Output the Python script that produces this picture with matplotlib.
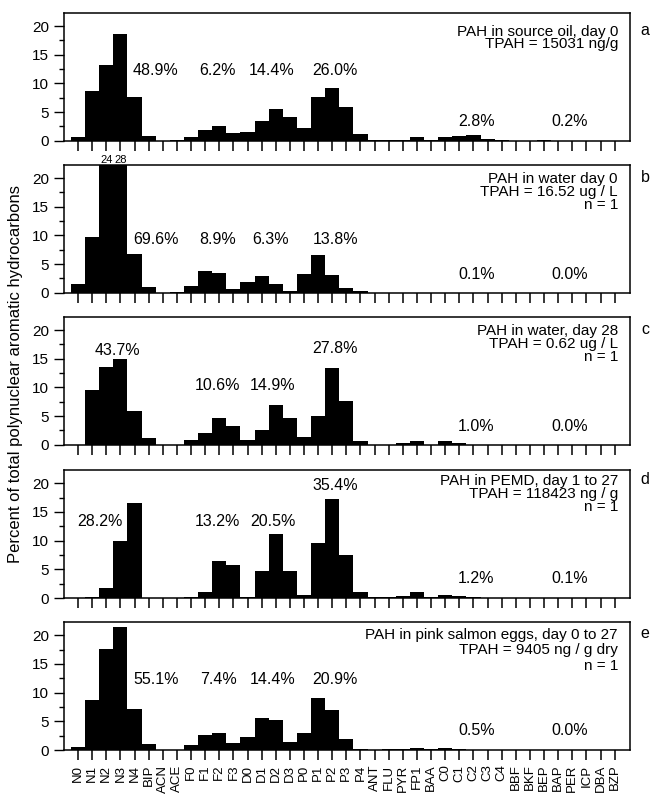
import matplotlib.pyplot as plt
from matplotlib.ticker import MultipleLocator

plt.rcParams['font.family'] = ['Liberation Sans', 'DejaVu Sans']

compounds = ["N0", "N1", "N2", "N3", "N4", "BIP", "ACN", "ACE", "F0", "F1",
             "F2", "F3", "D0", "D1", "D2", "D3", "P0", "P1", "P2", "P3",
             "P4", "ANT", "FLU", "PYR", "FP1", "BAA", "C0", "C1", "C2", "C3",
             "C4", "BBF", "BKF", "BEP", "BAP", "PER", "ICP", "DBA", "BZP"]

# percent of TPAH per compound
oil_day0 = [0.6, 8.6, 13.2, 18.6, 7.7, 0.8, 0.05, 0.15, 0.6, 1.8,
            2.6, 1.35, 1.5, 3.5, 5.5, 4.1, 2.3, 7.6, 9.2, 5.9,
            1.1, 0.1, 0.1, 0.1, 0.65, 0.15, 0.6, 0.85, 0.95, 0.3,
            0.1, 0.05, 0.02, 0.12, 0.03, 0.01, 0.01, 0.01, 0.01]
water_day0 = [1.45, 9.7, 24.0, 28.0, 6.8, 1.05, 0.02, 0.1, 1.2, 3.8,
              3.5, 0.7, 1.9, 2.85, 1.45, 0.4, 3.2, 6.6, 3.1, 0.9,
              0.25, 0.05, 0.05, 0.05, 0.05, 0.05, 0.05, 0.03, 0.02, 0.01,
              0.0, 0.0, 0.0, 0.0, 0.0, 0.0, 0.0, 0.0, 0.0]
water_day28 = [0.0, 9.6, 13.5, 14.9, 5.9, 1.15, 0.0, 0.0, 0.9, 2.1,
               4.6, 3.25, 0.8, 2.55, 6.95, 4.6, 1.3, 5.0, 13.4, 7.6,
               0.7, 0.0, 0.05, 0.35, 0.65, 0.05, 0.65, 0.25, 0.05, 0.0,
               0.0, 0.0, 0.0, 0.0, 0.0, 0.05, 0.0, 0.0, 0.0]
pemd = [0.0, 0.25, 1.75, 9.95, 16.6, 0.05, 0.05, 0.05, 0.15, 1.05,
        6.4, 5.8, 0.25, 4.7, 11.2, 4.65, 0.5, 9.55, 17.2, 7.5,
        1.05, 0.15, 0.15, 0.3, 1.05, 0.15, 0.6, 0.4, 0.15, 0.05,
        0.02, 0.03, 0.02, 0.05, 0.02, 0.01, 0.01, 0.01, 0.01]
eggs = [0.55, 8.7, 17.6, 21.4, 7.2, 1.0, 0.0, 0.0, 0.85, 2.6,
        3.0, 1.2, 2.3, 5.6, 5.2, 1.4, 3.0, 9.1, 7.0, 2.0,
        0.2, 0.05, 0.1, 0.2, 0.4, 0.1, 0.3, 0.15, 0.05, 0.0,
        0.0, 0.0, 0.0, 0.0, 0.0, 0.0, 0.0, 0.0, 0.0]

group_pct_a = ["48.9%", "6.2%", "14.4%", "26.0%", "2.8%", "0.2%"]
group_pct_b = ["69.6%", "8.9%", "6.3%", "13.8%", "0.1%", "0.0%"]
group_pct_c = ["43.7%", "10.6%", "14.9%", "27.8%", "1.0%", "0.0%"]
group_pct_d = ["28.2%", "13.2%", "20.5%", "35.4%", "1.2%", "0.1%"]
group_pct_e = ["55.1%", "7.4%", "14.4%", "20.9%", "0.5%", "0.0%"]

info_a = ["PAH in source oil, day 0", "TPAH = 15031 ng/g"]
info_b = ["PAH in water day 0", "TPAH = 16.52 ug / L", "n = 1"]
info_c = ["PAH in water, day 28", "TPAH = 0.62 ug / L", "n = 1"]
info_d = ["PAH in PEMD, day 1 to 27", "TPAH = 118423 ng / g", "n = 1"]
info_e = ["PAH in pink salmon eggs, day 0 to 27", "TPAH = 9405 ng / g dry", "n = 1"]

# layout: label positions (x in category units, y in percent)
pct_x = {
    "a": [5.5, 9.85, 13.7, 18.2, 28.2, 34.8],
    "b": [5.5, 9.85, 13.6, 18.2, 28.2, 34.8],
    "c": [2.8, 9.9, 13.8, 18.2, 28.2, 34.8],
    "d": [1.56, 9.9, 13.8, 18.2, 28.2, 34.8],
    "e": [5.5, 9.95, 13.8, 18.2, 28.2, 34.8],
}
pct_y = {
    "a": [12.3, 12.3, 12.3, 12.3, 3.3, 3.3],
    "b": [9.2, 9.2, 9.2, 9.2, 3.2, 3.2],
    "c": [16.5, 10.4, 10.4, 16.8, 3.2, 3.2],
    "d": [13.4, 13.4, 13.4, 19.6, 3.4, 3.4],
    "e": [12.3, 12.3, 12.3, 12.2, 3.4, 3.4],
}
# first line centre below axes top and line step, in pixels
info_pos = {"a": (18, 11.8), "b": (12.5, 12.9), "c": (13, 12.5),
            "d": (9.5, 12.7), "e": (11, 16.5)}

panels = [
    ("a", oil_day0, group_pct_a, info_a),
    ("b", water_day0, group_pct_b, info_b),
    ("c", water_day28, group_pct_c, info_c),
    ("d", pemd, group_pct_d, info_d),
    ("e", eggs, group_pct_e, info_e),
]
bottoms = [0.824, 0.634, 0.444, 0.2525, 0.0625]

FS = 11.5
INFO_FS = 11
asc_px = 0.716 * INFO_FS * 100 / 72   # cap height in pixels
line_unit = 14.9 * INFO_FS / 11.5     # matplotlib line step at linespacing=1

fig = plt.figure(figsize=(6.52, 8), dpi=100)
x = list(range(len(compounds)))

for (letter, vals, pcts, info), bottom in zip(panels, bottoms):
    ax = fig.add_axes([0.098, bottom, 0.868, 0.16])
    ax.bar(x, vals, width=1.0, color="black", linewidth=0)
    ax.set_xlim(-1, 39.07)
    ax.set_ylim(0, 22.3)

    ax.set_xticks(x)
    ax.set_yticks([0, 5, 10, 15, 20])
    ax.yaxis.set_minor_locator(MultipleLocator(2.5))
    ax.tick_params(axis="x", direction="out", length=7, width=1.1)
    ax.tick_params(axis="y", which="major", direction="out", length=7,
                   width=1, labelsize=11)
    ax.tick_params(axis="y", which="minor", direction="out", length=3.5,
                   width=1)
    if letter == "e":
        ax.set_xticklabels(compounds, rotation=90, fontsize=9.5)
    else:
        ax.tick_params(axis="x", labelbottom=False)
    for s in ax.spines.values():
        s.set_linewidth(1.1)

    for px, py, t in zip(pct_x[letter], pct_y[letter], pcts):
        ax.text(px, py, t, ha="center", va="center", fontsize=FS)

    off, step = info_pos[letter]
    ax.annotate("\n".join(info), xy=(0.979, 1), xycoords="axes fraction",
                xytext=(0, -(off - asc_px / 2)), textcoords="offset pixels",
                ha="right", va="top", multialignment="right",
                linespacing=step / line_unit, fontsize=INFO_FS)
    ax.annotate(letter, xy=(1.027, 1), xycoords="axes fraction",
                xytext=(0, -off), textcoords="offset pixels",
                ha="center", va="center", fontsize=FS)

    # bars that run off the top get their value written above
    for i, v in enumerate(vals):
        if v > 22.3:
            ax.annotate(f"{v:.0f}", xy=(i, 1), xycoords=("data", "axes fraction"),
                        xytext=(0, 5), textcoords="offset pixels",
                        ha="center", va="center", fontsize=8)

fig.text(0.024, 0.533, "Percent of total polynuclear aromatic hydrocarbons",
         rotation=90, ha="center", va="center", fontsize=12)

fig.savefig("out.png", dpi=100)
